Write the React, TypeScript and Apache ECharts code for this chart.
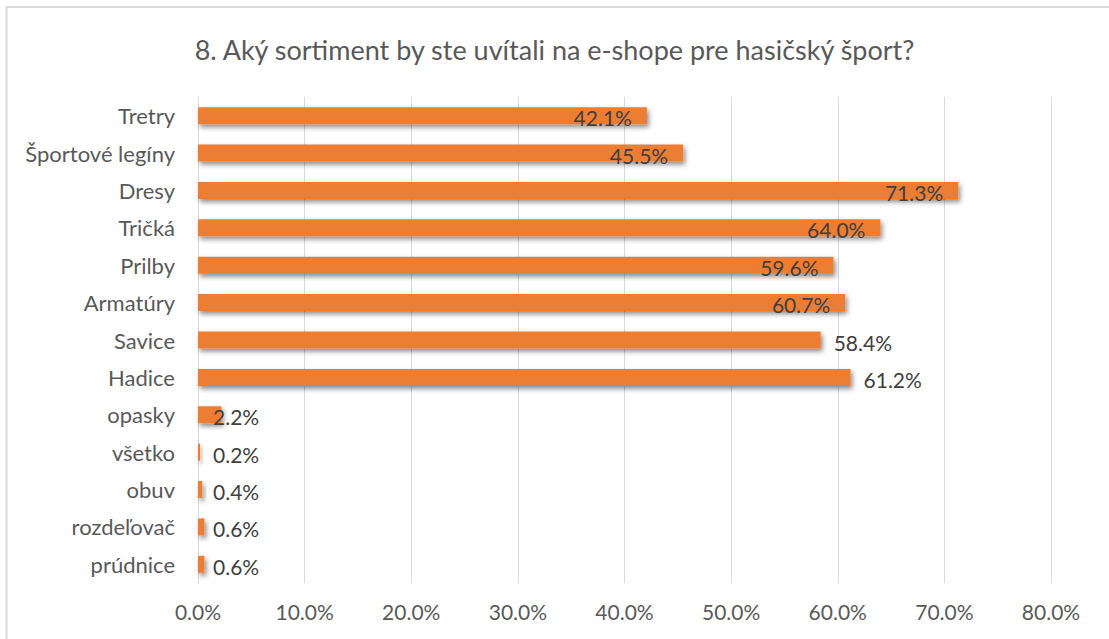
import React, { useEffect, useRef } from "react";
import * as echarts from "echarts";

const titleText = "8. Aký sortiment by ste uvítali na e-shope pre hasičský šport?";
const categories = [
  "Tretry",
  "Športové legíny",
  "Dresy",
  "Tričká",
  "Prilby",
  "Armatúry",
  "Savice",
  "Hadice",
  "opasky",
  "všetko",
  "obuv",
  "rozdeľovač",
  "prúdnice",
];
const values = [42.1, 45.5, 71.3, 64.0, 59.6, 60.7, 58.4, 61.2, 2.2, 0.2, 0.4, 0.6, 0.6];
const xTicks = [0, 10, 20, 30, 40, 50, 60, 70, 80];

const FONT = "Lato, 'Open Sans', sans-serif";

export default function App() {
  const ref = useRef<HTMLDivElement>(null);
  useEffect(() => {
    if (!ref.current) return;
    const chart = echarts.init(ref.current, undefined, { renderer: "svg" });
    const insideSet = new Set(["Tretry", "Športové legíny", "Dresy", "Tričká", "Prilby", "Armatúry"]);
    const outsideSet = new Set(["Savice", "Hadice"]);
    const data = values.map((v, i) => {
      const c = categories[i];
      let label: any;
      if (insideSet.has(c)) {
        label = { position: "insideRight", distance: 15 };
      } else if (outsideSet.has(c)) {
        label = { position: "right", distance: 13 };
      } else {
        label = { position: "insideLeft", distance: 15 };
      }
      return { value: v, label };
    });
    chart.setOption({
      animation: false,
      backgroundColor: "#ffffff",
      title: {
        text: titleText,
        left: "center",
        top: 31,
        textStyle: { fontFamily: FONT, fontSize: 27, fontWeight: "normal", color: "#595959" },
      },
      graphic: [
        {
          type: "rect",
          shape: { x: 6.5, y: 7, width: 1110, height: 640 },
          style: { fill: "none", stroke: "#D9D9D9", lineWidth: 2 },
          silent: true,
        },
      ],
      grid: { left: 198, right: 58, top: 97, bottom: 56, containLabel: false },
      xAxis: {
        type: "value",
        min: xTicks[0],
        max: xTicks[xTicks.length - 1],
        interval: 10,
        axisLine: { show: false },
        axisTick: { show: false },
        splitLine: { show: true, lineStyle: { color: "#D9D9D9", width: 1 } },
        axisLabel: {
          formatter: (v: number) => v.toFixed(1) + "%",
          fontFamily: FONT,
          fontSize: 21,
          color: "#595959",
          margin: 18,
        },
      },
      yAxis: {
        type: "category",
        data: categories,
        inverse: true,
        axisLine: { show: false },
        axisTick: { show: false },
        axisLabel: { fontFamily: FONT, fontSize: 22, color: "#595959", margin: 23 },
      },
      series: [
        {
          type: "bar",
          data,
          barWidth: 17,
          itemStyle: {
            color: "#ED7D31",
            shadowColor: "rgba(0,0,0,0.45)",
            shadowBlur: 5,
            shadowOffsetX: 2,
            shadowOffsetY: 3,
          },
          label: {
            show: true,
            formatter: (p: any) => p.value.toFixed(1) + "%",
            fontFamily: FONT,
            fontSize: 21,
            color: "#404040",
            offset: [0, 2],
          },
        },
      ],
    });
    return () => chart.dispose();
  }, []);
  return (
    <div
      ref={ref}
      style={{ position: "fixed", left: 0, top: 0, width: 1109, height: 639 }}
    />
  );
}
